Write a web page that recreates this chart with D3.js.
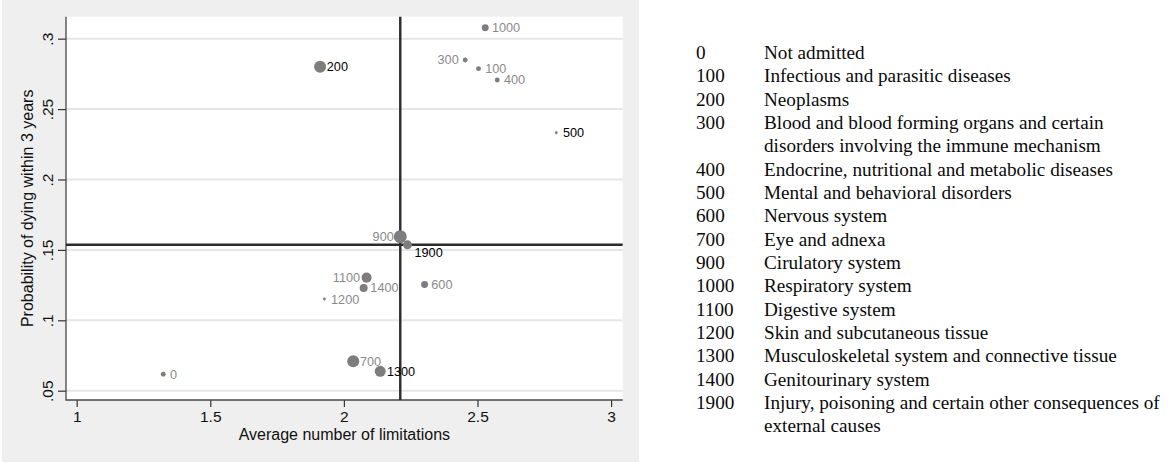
<!DOCTYPE html>
<html>
<head>
<meta charset="utf-8">
<script src="https://cdn.jsdelivr.net/npm/d3@7/dist/d3.min.js"></script>
<style>
  html, body { margin: 0; padding: 0; background: #ffffff; }
  svg { display: block; }
</style>
</head>
<body>
<svg id="chart" width="1172" height="463"></svg>
<script>
// Diagnosis groups (ICD chapter codes)
const codes = [0, 100, 200, 300, 400, 500, 600, 700, 900, 1000, 1100, 1200, 1300, 1400, 1900];
// Average number of limitations per group
const avgLimitations = [1.324, 2.504, 1.911, 2.454, 2.574, 2.795, 2.302, 2.035, 2.211, 2.529, 2.085, 1.927, 2.136, 2.074, 2.238];
// Probability of dying within 3 years per group
const probDying = [0.0617, 0.2787, 0.2801, 0.2849, 0.2707, 0.2332, 0.1254, 0.0709, 0.1594, 0.3078, 0.1303, 0.1151, 0.0638, 0.1230, 0.1536];
// Relative group size (marker weight)
const weights = [6, 6, 36, 6, 6, 2, 12, 36, 42, 12, 25, 2, 30, 16, 20];
// Marker label clock position
const labelClock = [3, 3, 3, 9, 3, 3, 3, 3, 9, 3, 9, 3, 3, 3, 4];
// Groups whose labels are emphasised
const emphasised = [200, 500, 1300, 1900];
// Overall means (reference lines)
const meanLimitations = 2.211;
const meanProbDying = 0.1536;

const xTicks = [1, 1.5, 2, 2.5, 3];
const yTicks = [0.05, 0.1, 0.15, 0.2, 0.25, 0.3];
const xTickLabels = ["1", "1.5", "2", "2.5", "3"];
const yTickLabels = [".05", ".1", ".15", ".2", ".25", ".3"];

const legendCodes = ["0", "100", "200", "300", "400", "500", "600", "700", "900", "1000", "1100", "1200", "1300", "1400", "1900"];
const legendNames = [
  "Not admitted",
  "Infectious and parasitic diseases",
  "Neoplasms",
  "Blood and blood forming organs and certain\ndisorders involving the immune mechanism",
  "Endocrine, nutritional and metabolic diseases",
  "Mental and behavioral disorders",
  "Nervous system",
  "Eye and adnexa",
  "Cirulatory system",
  "Respiratory system",
  "Digestive system",
  "Skin and subcutaneous tissue",
  "Musculoskeletal system and connective tissue",
  "Genitourinary system",
  "Injury, poisoning and certain other consequences of\nexternal causes"
];

const svg = d3.select("#chart");
const sans = "Arial, 'Liberation Sans', Helvetica, sans-serif";
const serif = "'Times New Roman', 'Liberation Serif', Times, serif";

// Graph region
const panel = { x: 2, y: 0, w: 637, h: 462 };
const plot = { left: 66, right: 622.7, top: 16.7, bottom: 400 };

svg.append("rect")
  .attr("x", panel.x).attr("y", panel.y)
  .attr("width", panel.w).attr("height", panel.h)
  .attr("fill", "#efefef");

svg.append("rect")
  .attr("x", plot.left).attr("y", plot.top)
  .attr("width", plot.right - plot.left).attr("height", plot.bottom - plot.top)
  .attr("fill", "#ffffff");

const x = d3.scaleLinear().domain([0.96, 3.0435]).range([plot.left, plot.right]);
const y = d3.scaleLinear().domain([0.0434, 0.3156]).range([plot.bottom, plot.top]);
const r = d3.scaleSqrt().domain([0, 42]).range([0, 6.5]);

// Horizontal grid lines
svg.append("g")
  .selectAll("line")
  .data(yTicks)
  .join("line")
  .attr("x1", plot.left).attr("x2", plot.right)
  .attr("y1", d => y(d)).attr("y2", d => y(d))
  .attr("stroke", "#e6e6e6")
  .attr("stroke-width", 2);

// Y axis
const yAxis = svg.append("g")
  .attr("transform", `translate(${plot.left},0)`)
  .call(d3.axisLeft(y).tickValues(yTicks).tickSize(8).tickSizeOuter(0)
    .tickFormat((d, i) => yTickLabels[i]));
yAxis.select(".domain").remove();
yAxis.selectAll(".tick line").attr("stroke", "#333").attr("stroke-width", 1.2);
yAxis.selectAll(".tick text")
  .attr("font-family", sans)
  .attr("font-size", 15.5)
  .attr("fill", "#111")
  .attr("text-anchor", "middle")
  .attr("dy", null)
  .attr("x", null)
  .attr("transform", "translate(-13.5,0) rotate(-90)");

// X axis
const xAxis = svg.append("g")
  .attr("transform", `translate(0,${plot.bottom})`)
  .call(d3.axisBottom(x).tickValues(xTicks).tickSize(7).tickSizeOuter(0)
    .tickFormat((d, i) => xTickLabels[i]));
xAxis.select(".domain").remove();
xAxis.selectAll(".tick line").attr("stroke", "#333").attr("stroke-width", 1.2);
xAxis.selectAll(".tick text")
  .attr("font-family", sans)
  .attr("font-size", 15.5)
  .attr("fill", "#111")
  .attr("dy", null)
  .attr("y", 22.3);

// Axis lines
svg.append("line")
  .attr("x1", plot.left).attr("x2", plot.left)
  .attr("y1", plot.top).attr("y2", plot.bottom + 0.6)
  .attr("stroke", "#444").attr("stroke-width", 1.3);
svg.append("line")
  .attr("x1", plot.left).attr("x2", plot.right)
  .attr("y1", plot.bottom).attr("y2", plot.bottom)
  .attr("stroke", "#444").attr("stroke-width", 1.3);

// Axis titles
svg.append("text")
  .attr("x", (plot.left + plot.right) / 2)
  .attr("y", 440)
  .attr("text-anchor", "middle")
  .attr("font-family", sans)
  .attr("font-size", 16)
  .attr("fill", "#111")
  .text("Average number of limitations");

svg.append("text")
  .attr("transform", `translate(32.5,${(plot.top + plot.bottom) / 2}) rotate(-90)`)
  .attr("text-anchor", "middle")
  .attr("font-family", sans)
  .attr("font-size", 16)
  .attr("fill", "#111")
  .text("Probability of dying within 3 years");

// Reference lines at overall means
svg.append("line")
  .attr("x1", x(meanLimitations)).attr("x2", x(meanLimitations))
  .attr("y1", plot.top).attr("y2", plot.bottom)
  .attr("stroke", "#2b2b2b").attr("stroke-width", 2.4);
svg.append("line")
  .attr("x1", plot.left).attr("x2", plot.right)
  .attr("y1", y(meanProbDying)).attr("y2", y(meanProbDying))
  .attr("stroke", "#2b2b2b").attr("stroke-width", 2.4);

// Points
const points = codes.map((c, i) => ({
  code: c,
  lx: avgLimitations[i],
  py: probDying[i],
  w: weights[i],
  clock: labelClock[i]
}));

svg.append("g")
  .selectAll("circle")
  .data(points)
  .join("circle")
  .attr("cx", d => x(d.lx))
  .attr("cy", d => y(d.py))
  .attr("r", d => r(d.w))
  .attr("fill", "#7d7d7d");

// Marker labels
const clockOffset = {
  3: { dx: 6.7, dy: 0, anchor: "start" },
  9: { dx: -6.5, dy: 0, anchor: "end" },
  4: { dx: 7, dy: 7.7, anchor: "start" }
};

svg.append("g")
  .selectAll("text")
  .data(points)
  .join("text")
  .attr("x", d => x(d.lx) + clockOffset[d.clock].dx)
  .attr("y", d => y(d.py) + clockOffset[d.clock].dy + 4.5)
  .attr("text-anchor", d => clockOffset[d.clock].anchor)
  .attr("font-family", sans)
  .attr("font-size", 12.7)
  .attr("fill", d => emphasised.includes(d.code) ? "#000000" : "#8a8a8a")
  .text(d => d.code);

// Key of diagnosis groups
const key = svg.append("g")
  .attr("font-family", serif)
  .attr("font-size", 19.2)
  .attr("fill", "#0a0a0a");

let line = 0;
const lineStep = 23.33;
const keyTop = 59;
legendCodes.forEach((code, i) => {
  const parts = legendNames[i].split("\n");
  key.append("text")
    .attr("x", 696)
    .attr("y", keyTop + line * lineStep)
    .text(code);
  parts.forEach((p, j) => {
    key.append("text")
      .attr("x", 764)
      .attr("y", keyTop + (line + j) * lineStep)
      .text(p);
  });
  line += parts.length;
});
</script>
</body>
</html>
